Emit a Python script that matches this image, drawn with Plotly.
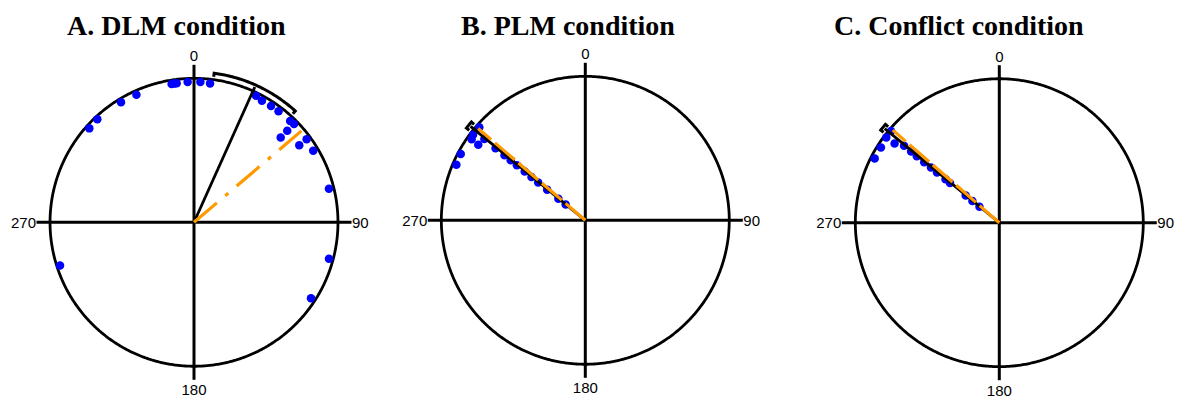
import numpy as np
import plotly.graph_objects as go

# ---- data: response directions (deg, clockwise from 0 = up) and stacked radius ----
dlm_theta = [311.9, 316.8, 328.7, 335.7, 350.8, 351.9, 352.9, 357.4, 2.6, 6.6,
             26.1, 29.2, 33.5, 37.3, 43.5, 45.5, 45.5, 45.6, 53.6, 53.8,
             59.0, 76.0, 105.1, 123.0, 252.1]
dlm_r = [0.977, 0.981, 0.976, 0.972, 0.973, 0.973, 0.973, 0.975, 0.975, 0.970,
         0.979, 0.967, 0.969, 0.969, 0.970, 0.974, 0.908, 0.843, 0.972, 0.906,
         0.966, 0.966, 0.971, 0.969, 0.978]

plm_theta = [311.3, 307.3, 305.5, 305.2, 298.0, 293.3,
             308.8, 308.8, 308.8, 308.8, 308.8, 308.8, 308.8, 308.8, 308.8, 308.8, 308.8]
plm_r = [0.980, 0.980, 0.970, 0.910, 0.980, 0.975,
         0.900, 0.800, 0.720, 0.665, 0.610, 0.540, 0.480, 0.420, 0.340, 0.240, 0.175]

conf_theta = [310.3, 307.0, 307.1, 302.4, 297.3,
              308.9, 308.9, 308.9, 308.9, 308.9, 308.9, 308.9, 308.9, 308.9, 308.9, 308.9]
conf_r = [0.986, 0.983, 0.912, 0.974, 0.974,
          0.850, 0.787, 0.736, 0.670, 0.610, 0.556, 0.480, 0.440, 0.300, 0.240, 0.177]

# mean direction, its confidence interval, and the reference (orange) direction
mean_dir = [24.2, 309.3, 309.4]
ci_low = [7.7, 307.8, 308.0]
ci_high = [42.3, 310.8, 310.8]
ref_dir = [49.6, 310.6, 311.0]

titles = ["A. DLM condition", "B. PLM condition", "C. Conflict condition"]
title_x = [176, 568, 959]
tick_vals = [0, 90, 180, 270]
tick_text = ["0", "90", "180", "270"]

W, H = 1177, 396
RMAX = 1.094          # axis cross extends slightly past the unit circle
HALF = 157.5          # px from centre to end of the axis cross
centers = [(194.0, 222.3), (585.3, 220.3), (999.3, 222.7)]

ref_dash = ["30px,11px,4px,11px", "26px,5px", "26px,5px"]

fig = go.Figure()

panels = [(dlm_theta, dlm_r), (plm_theta, plm_r), (conf_theta, conf_r)]
circle_t = np.linspace(0, 360, 721)

for i, (th, rr) in enumerate(panels):
    sp = "polar" if i == 0 else f"polar{i + 1}"
    # unit circle
    fig.add_trace(go.Scatterpolar(r=np.ones_like(circle_t), theta=circle_t, mode="lines",
                                  line=dict(color="black", width=2.8),
                                  subplot=sp, showlegend=False, hoverinfo="skip"))
    # individual responses
    fig.add_trace(go.Scatterpolar(r=rr, theta=th, mode="markers",
                                  marker=dict(color="#0000ff", size=8.5, line=dict(width=0)),
                                  subplot=sp, showlegend=False))
    # mean direction
    fig.add_trace(go.Scatterpolar(r=[0, 1.03], theta=[mean_dir[i], mean_dir[i]], mode="lines",
                                  line=dict(color="black", width=2.8),
                                  subplot=sp, showlegend=False))
    # confidence interval arc with end ticks
    arc_t = np.linspace(ci_low[i], ci_high[i], 60)
    ci_t = np.concatenate([[ci_low[i]], arc_t, [ci_high[i]]])
    ci_r = np.concatenate([[1.02], np.full(arc_t.size, 1.045), [1.02]])
    fig.add_trace(go.Scatterpolar(r=ci_r, theta=ci_t, mode="lines",
                                  line=dict(color="black", width=3),
                                  subplot=sp, showlegend=False))
    # reference direction
    fig.add_trace(go.Scatterpolar(r=[0, 0.98], theta=[ref_dir[i], ref_dir[i]], mode="lines",
                                  line=dict(color="#ff9900", width=3.2, dash=ref_dash[i]),
                                  subplot=sp, showlegend=False))

    cx, cy = centers[i]
    polar = dict(
        domain=dict(x=[(cx - HALF) / W, (cx + HALF) / W],
                    y=[(H - cy - HALF) / H, (H - cy + HALF) / H]),
        bgcolor="rgba(0,0,0,0)",
        radialaxis=dict(visible=False, range=[0, RMAX]),
        angularaxis=dict(direction="clockwise", rotation=90,
                         tickmode="array", tickvals=tick_vals, ticktext=tick_text,
                         showline=False, ticks="", showgrid=True,
                         gridcolor="black", gridwidth=2.8,
                         tickfont=dict(family="Liberation Sans, Arial", size=15, color="black")),
    )
    fig.update_layout(**{sp: polar})

    fig.add_annotation(text=f"<b>{titles[i]}</b>", x=title_x[i] / W, y=1 - 26 / H,
                       xref="paper", yref="paper", xanchor="center", yanchor="middle",
                       showarrow=False,
                       font=dict(family="Liberation Serif, Times New Roman", size=28, color="black"))

fig.update_layout(width=W, height=H, margin=dict(l=0, r=0, t=0, b=0),
                  paper_bgcolor="white", plot_bgcolor="white", showlegend=False)

fig.write_html("out.html")
